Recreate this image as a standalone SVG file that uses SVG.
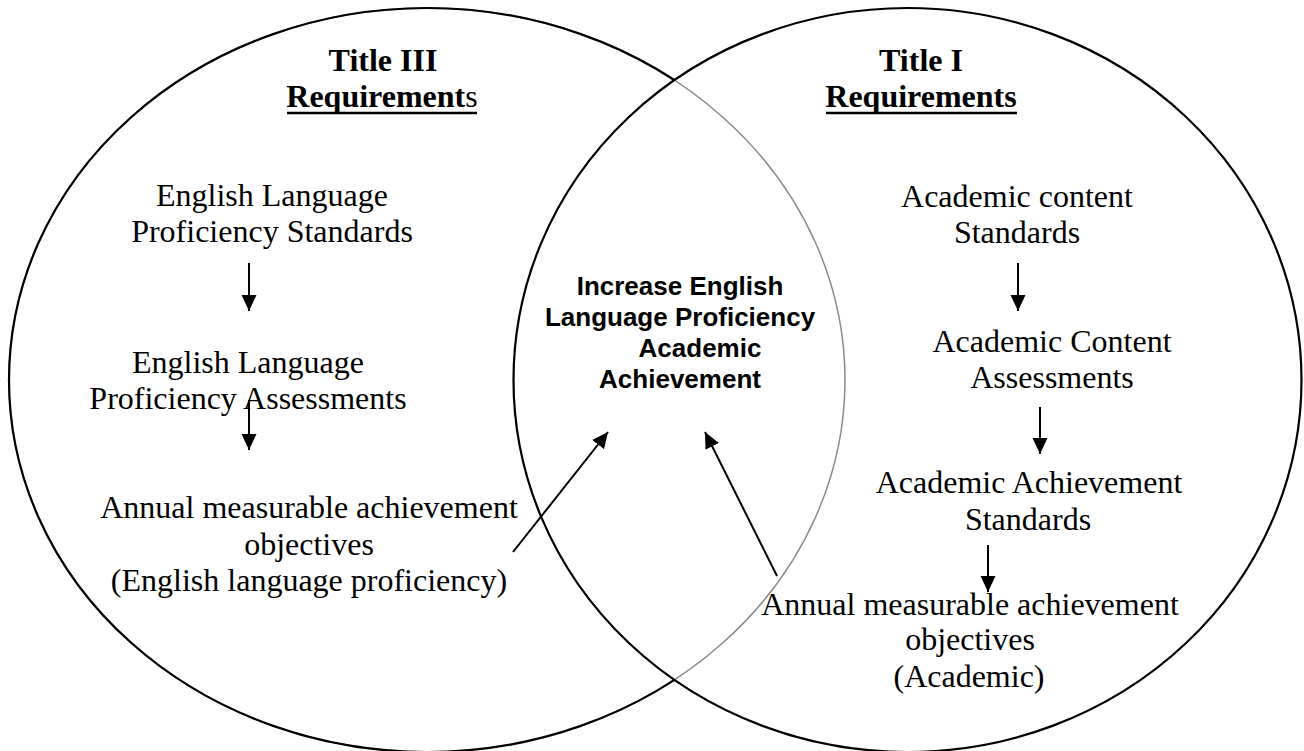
<svg xmlns="http://www.w3.org/2000/svg" width="1304" height="751" viewBox="0 0 1304 751">
<style>
.t{font-family:"Liberation Serif","Times New Roman",serif;font-size:32px;fill:#000;text-anchor:middle}
.b{font-weight:bold}
.c{font-family:"Liberation Sans",Arial,sans-serif;font-size:26px;font-weight:bold;fill:#000;text-anchor:middle}
.ar{stroke:#000;stroke-width:2;fill:none;marker-end:url(#ah)}
.ul{stroke:#000;stroke-width:2.5}
</style>
<defs>
<marker id="ah" viewBox="0 0 16 16" refX="16" refY="8" markerWidth="16" markerHeight="16" markerUnits="userSpaceOnUse" orient="auto">
<path d="M0,0.5 L16,8 L0,15.5 Z" fill="#000"/>
</marker>
<mask id="outR" maskUnits="userSpaceOnUse" x="0" y="0" width="1304" height="751">
<rect x="0" y="0" width="1304" height="751" fill="#fff"/>
<ellipse cx="907.5" cy="380" rx="394" ry="372" fill="#000"/>
</mask>
</defs>
<rect x="0" y="0" width="1304" height="751" fill="#fff"/>
<g id="circles">
<ellipse cx="427" cy="380" rx="418" ry="372" fill="none" stroke="#8a8a8a" stroke-width="1.5"/>
<ellipse cx="427" cy="380" rx="418" ry="372" fill="none" stroke="#000" stroke-width="2.2" mask="url(#outR)"/>
<ellipse cx="907.5" cy="380" rx="394" ry="372" fill="none" stroke="#000" stroke-width="2.2"/>
</g>
<g id="title3">
<text class="t b" x="383" y="71">Title III</text>
<text class="t b" x="382" y="107">Requirement<tspan font-weight="normal">s</tspan></text>
<line class="ul" x1="287" y1="113" x2="477" y2="113"/>
</g>
<g id="title1">
<text class="t b" x="921" y="71">Title I</text>
<text class="t b" x="921" y="107">Requirements</text>
<line class="ul" x1="826" y1="113" x2="1017" y2="113"/>
</g>
<g id="elp-standards">
<text class="t" x="272" y="206">English Language</text>
<text class="t" x="272" y="242">Proficiency Standards</text>
</g>
<g id="elp-assessments">
<text class="t" x="248" y="373">English Language</text>
<text class="t" x="248" y="409">Proficiency Assessments</text>
</g>
<g id="amao-elp">
<text class="t" x="309" y="518">Annual measurable achievement</text>
<text class="t" x="309" y="555">objectives</text>
<text class="t" x="309" y="591">(English language proficiency)</text>
</g>
<g id="goal">
<text class="c" x="680" y="295">Increase English</text>
<text class="c" x="680" y="326">Language Proficiency</text>
<text class="c" x="700" y="357">Academic</text>
<text class="c" x="680" y="388">Achievement</text>
</g>
<g id="acad-content-standards">
<text class="t" x="1017" y="207">Academic content</text>
<text class="t" x="1017" y="243">Standards</text>
</g>
<g id="acad-content-assessments">
<text class="t" x="1052" y="352">Academic Content</text>
<text class="t" x="1052" y="388">Assessments</text>
</g>
<g id="acad-achievement-standards">
<text class="t" x="1029" y="493">Academic Achievement</text>
<text class="t" x="1028" y="530">Standards</text>
</g>
<g id="amao-academic">
<text class="t" x="970" y="615">Annual measurable achievement</text>
<text class="t" x="970" y="650">objectives</text>
<text class="t" x="969" y="687">(Academic)</text>
</g>
<g id="connectors">
<line class="ar" x1="249" y1="263" x2="249" y2="311"/>
<line class="ar" x1="249" y1="400" x2="249" y2="450"/>
<line class="ar" x1="1018" y1="263" x2="1018" y2="311"/>
<line class="ar" x1="1040" y1="407" x2="1040" y2="454"/>
<line class="ar" x1="988" y1="545" x2="988" y2="592"/>
<line class="ar" x1="513" y1="552" x2="608" y2="432"/>
<line class="ar" x1="777" y1="576" x2="705" y2="432"/>
</g>
</svg>
